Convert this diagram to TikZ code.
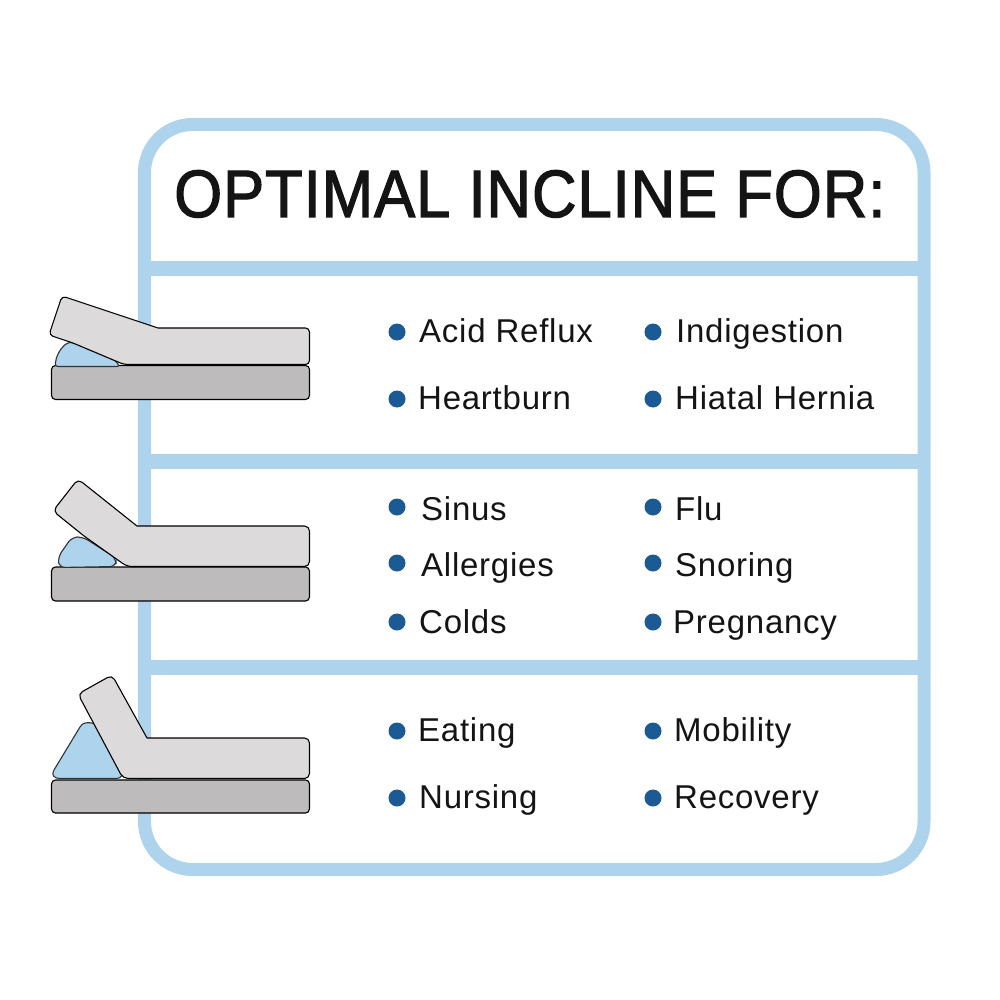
\documentclass[tikz,border=0pt]{standalone}
\usepackage{fontspec}
\setmainfont[LetterSpace=2.3]{Liberation Sans}
\newfontfamily\titlefont[FakeStretch=0.92,LetterSpace=1.4]{Liberation Sans}
\definecolor{frameblue}{HTML}{AED3EC}
\definecolor{dotblue}{HTML}{1B5A92}
\definecolor{topgrey}{HTML}{DCDADB}
\definecolor{basegrey}{HTML}{BDBBBC}
\definecolor{inktext}{HTML}{141414}
\tikzset{
  frameline/.style={draw=frameblue,line width=13pt},
  divider/.style={draw=frameblue,line width=15pt},
  mattress/.style={draw=black,line width=1.1pt,fill=topgrey,line join=round},
  basebox/.style={draw=black,line width=1.1pt,fill=basegrey,rounded corners=4pt},
  wedge/.style={draw=black!80,line width=1.1pt,fill=frameblue,line join=round},
  bullet/.style={circle,fill=dotblue,minimum size=17pt,inner sep=0pt},
  item/.style={anchor=base west,inner sep=0pt,font=\fontsize{33}{33}\selectfont,text=inktext},
}
\begin{document}
\begin{tikzpicture}[x=1pt,y=-1pt]
\useasboundingbox (0,0) rectangle (1000,1000);
\fill[white] (0,0) rectangle (1000,1000);
% frame
\draw[frameline,rounded corners=48pt] (144.5,124.5) rectangle (924,869.5);
\draw[divider] (144.5,268.5) -- (924,268.5);
\draw[divider] (144.5,461.5) -- (924,461.5);
\draw[divider] (144.5,667.5) -- (924,667.5);
% title
\node[anchor=base west,inner sep=0pt,text=inktext] (title) at (174,217)
  {\special{pdf:code q 1.2 w 2 Tr}\titlefont\fontsize{67}{67}\selectfont OPTIMAL INCLINE FOR:\special{pdf:code 0 Tr Q}};
% bed 1
\draw[basebox] (51.5,365.5) rectangle (309.5,399.5);
\draw[wedge,rounded corners=3pt] (120,366.5) -- (113,358) -- (73,342) -- (67,343) .. controls (60,349) and (56,356) .. (55,366.5) -- cycle;
\draw[mattress,rounded corners=4pt] (62,296) [sharp corners] -- (158,328) [rounded corners=4pt] -- (309.5,328) -- (309.5,364.5) -- (124,364.5) -- (73,343) -- (49,335) -- cycle;
% bed 2
\draw[basebox] (51.5,567) rectangle (309.5,601);
\draw[wedge,rounded corners=6pt] (83,537) -- (72,537) -- (58,557) -- (59,567.5) -- (116,566.5) -- (116,558) -- cycle;
\draw[mattress,rounded corners=5pt] (78,479) [sharp corners] -- (137,526) [rounded corners=5pt] -- (309.5,526) -- (309.5,566.5) -- (127,566.5) -- (84,536) -- (53,511) -- cycle;
% bed 3
\draw[basebox] (51.5,780) rectangle (309.5,813);
\draw[wedge] (85,723) .. controls (88,722.5) and (92,722.5) .. (95,724) -- (121,770) .. controls (124,775) and (121,778.5) .. (116,778.5) -- (60,778.5) .. controls (54,778.5) and (51,775) .. (54,770) -- (80,727) .. controls (81.5,724.5) and (83,723.5) .. (85,723) -- cycle;
\draw[mattress,rounded corners=6pt] (112,675) [sharp corners] -- (147,738) [rounded corners=5pt] -- (309.5,738) -- (309.5,778.5) -- (123,778.5) -- (78,694) -- cycle;
% items
\foreach \nm/\bx/\by/\tx/\ty/\lab in {
 a/397/332/419/342/Acid Reflux,
 b/653/332/676/342/Indigestion,
 c/397/399/418/409/Heartburn,
 d/653/399/675/409/Hiatal Hernia,
 e/397/507/421/520/Sinus,
 f/653/507/675/520/Flu,
 g/397/563/421/576/Allergies,
 h/653/563/675/576/Snoring,
 i/397/622/419/633/Colds,
 j/653/622/673/633/Pregnancy,
 k/397/731/418/741/Eating,
 l/653/731/674/741/Mobility,
 m/397/798/419/808/Nursing,
 n/653/798/674/808/Recovery}{
  \node[bullet] (dot\nm) at (\bx,\by) {};
  \node[item] (txt\nm) at (\tx,\ty) {\lab};
}
\end{tikzpicture}
\end{document}
